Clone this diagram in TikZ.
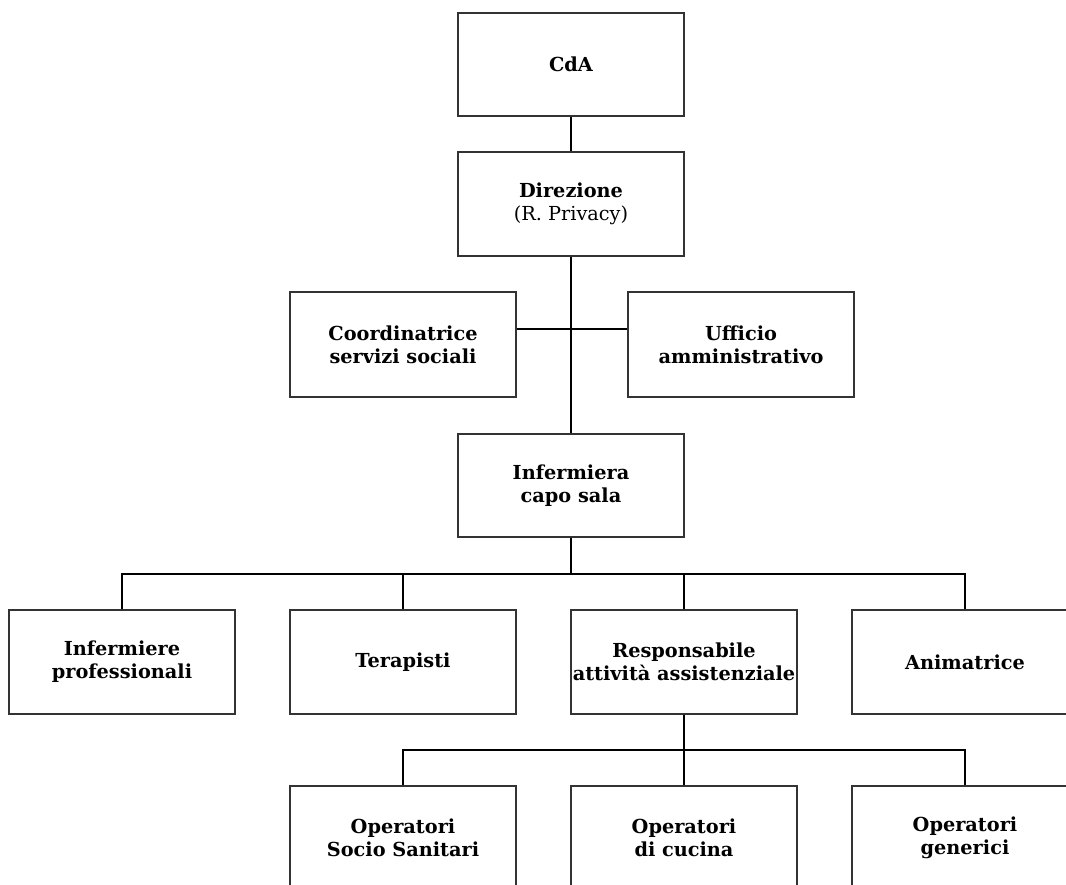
\documentclass[tikz,border=0pt]{standalone}
\usepackage{fontspec}
\setmainfont{DejaVu Serif}
\begin{document}
\begin{tikzpicture}[x=1pt,y=-1pt,
  box/.style={draw=black!80,line width=1.6pt,minimum width=226pt,minimum height=104pt,align=center,inner sep=0pt,font=\fontsize{19.3}{23}\selectfont\bfseries},
  conn/.style={line width=2.8pt,black}]
\useasboundingbox (0,0) rectangle (1066,884);
\clip (0,0) rectangle (1066,884);
\node[box,minimum height=103pt] (cda) at (571,64.5) {CdA};
\node[box] (dir) at (571,204) {Direzione\\{\mdseries (R. Privacy)}};
\node[box,minimum height=105pt] (coord) at (403,344.5) {Coordinatrice\\servizi sociali};
\node[box,minimum height=105pt] (uff) at (741,344.5) {Ufficio\\amministrativo};
\node[box,minimum height=103pt] (capo) at (571,485.5) {Infermiera\\capo sala};
\node[box] (inf) at (122,662) {Infermiere\\professionali};
\node[box] (ter) at (403,662) {Terapisti};
\node[box] (resp) at (684,662) {Responsabile\\attività assistenziale};
\node[box] (anim) at (965,662) {Animatrice};
\node[box] (oss) at (403,838) {Operatori\\Socio Sanitari};
\node[box] (cuc) at (684,838) {Operatori\\di cucina};
\node[box] (gen) at (965,838) {Operatori\\generici};
\coordinate (j1) at (571,329);
\coordinate (b1) at (571,574);
\coordinate (b2) at (684,750);
\draw[conn] (cda.south) -- (dir.north);
\draw[conn] (dir.south) -- (capo.north);
\draw[conn] (coord.east |- j1) -- (uff.west |- j1);
\draw[conn] (capo.south) -- (b1);
\draw[conn] (inf.north) -- (inf.north |- b1) -- (anim.north |- b1) -- (anim.north);
\draw[conn] (ter.north) -- (ter.north |- b1);
\draw[conn] (resp.north) -- (resp.north |- b1);
\draw[conn] (resp.south) -- (b2);
\draw[conn] (oss.north) -- (oss.north |- b2) -- (gen.north |- b2) -- (gen.north);
\draw[conn] (cuc.north) -- (cuc.north |- b2);
\end{tikzpicture}
\end{document}
